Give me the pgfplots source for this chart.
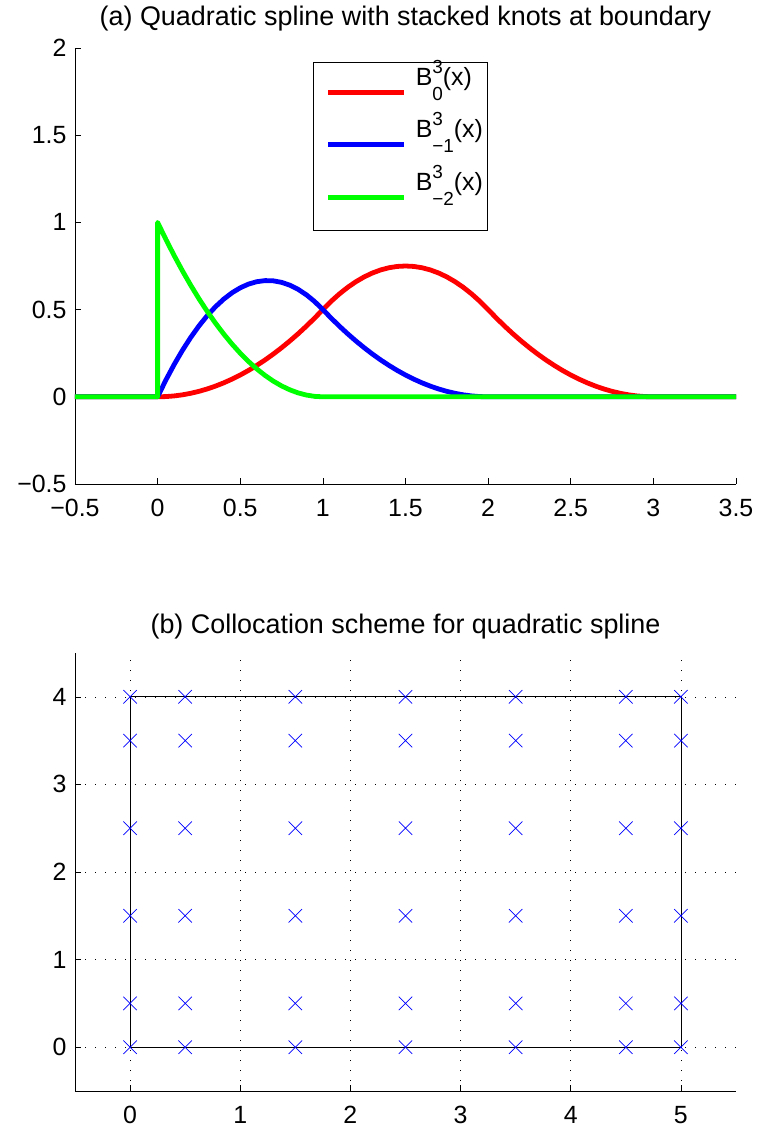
\documentclass[border=0pt]{standalone}
\usepackage{pgfplots}
\pgfplotsset{compat=1.18}
\usepackage{fontspec}
\setmainfont{Liberation Sans}

% B-spline name with stacked super- and subscript
\newcommand{\Bs}[2]{B\rlap{\raisebox{12bp}{\fontsize{19}{19}\selectfont #1}}\raisebox{-15bp}{\fontsize{19}{19}\selectfont #2}(x)}

\definecolor{mred}{rgb}{1,0,0}
\definecolor{mblue}{rgb}{0,0,1}
\definecolor{mgreen}{rgb}{0,1,0}

\pgfplotsset{
  mlab/.style={
    scale only axis,
    width=661bp,
    axis x line*=bottom,
    axis y line*=left,
    tick align=inside,
    major tick length=6bp,
    tick style={black, line width=0.6bp},
    axis line style={black, line width=0.8bp},
    /pgf/number format/assume math mode=true,
    ticklabel style={font=\fontsize{25}{29}\selectfont},
    yticklabel style={xshift=-5bp},
    xticklabel style={yshift=-12bp},
    title style={font=\fontsize{27}{31}\selectfont, at={(0.5,1)}, anchor=base},
  }
}

\begin{document}
\begin{tikzpicture}
% (a) quadratic B-splines on the knot sequence 0,0,0,1,2,3
\begin{axis}[mlab,
  at={(0,0)}, anchor=south west,
  height=436bp,
  xmin=-0.5, xmax=3.5, ymin=-0.5, ymax=2,
  xtick={-0.5,0,0.5,1,1.5,2,2.5,3,3.5},
  xticklabels={−0.5,0,0.5,1,1.5,2,2.5,3,3.5},
  ytick={-0.5,0,0.5,1,1.5,2},
  yticklabels={−0.5,0,0.5,1,1.5,2},
  title={(a) Quadratic spline with stacked knots at boundary},
  title style={yshift=17bp},
  legend style={
    at={(0.36,0.968)}, anchor=north west,
    draw=black, line width=0.8bp,
    inner xsep=4bp, inner ysep=5.25bp,
    row sep=0bp, column sep=9bp,
    font=\fontsize{25}{29}\selectfont,
    nodes={inner sep=0bp, text height=17.75bp, text depth=34.75bp},
  },
  legend cell align=left,
  legend image code/.code={
    \path[draw=none, fill=none] (0bp,-10bp) rectangle (87bp,10bp);
    \draw[#1, line width=4.8bp] (11bp,1.5bp) -- (87bp,1.5bp);
  },
]
\addplot[mred, line width=4.8bp, line join=round] coordinates {
(-0.5,0) (0,0) (0.05,0.00125) (0.1,0.005) (0.15,0.01125) (0.2,0.02) (0.25,0.03125)
(0.3,0.045) (0.35,0.06125) (0.4,0.08) (0.45,0.10125) (0.5,0.125) (0.55,0.15125)
(0.6,0.18) (0.65,0.21125) (0.7,0.245) (0.75,0.28125) (0.8,0.32) (0.85,0.36125)
(0.9,0.405) (0.95,0.45125) (1,0.5) (1.05,0.5475) (1.1,0.59) (1.15,0.6275) (1.2,0.66)
(1.25,0.6875) (1.3,0.71) (1.35,0.7275) (1.4,0.74) (1.45,0.7475) (1.5,0.75)
(1.55,0.7475) (1.6,0.74) (1.65,0.7275) (1.7,0.71) (1.75,0.6875) (1.8,0.66)
(1.85,0.6275) (1.9,0.59) (1.95,0.5475) (2,0.5) (2.05,0.45125) (2.1,0.405)
(2.15,0.36125) (2.2,0.32) (2.25,0.28125) (2.3,0.245) (2.35,0.21125) (2.4,0.18)
(2.45,0.15125) (2.5,0.125) (2.55,0.10125) (2.6,0.08) (2.65,0.06125) (2.7,0.045)
(2.75,0.03125) (2.8,0.02) (2.85,0.01125) (2.9,0.005) (2.95,0.00125) (3,0) (3.5,0)
};
\addlegendentry{\Bs{3}{0}}
\addplot[mblue, line width=4.8bp, line join=round] coordinates {
(-0.5,0) (0,0) (0.05,0.09625) (0.1,0.185) (0.15,0.26625) (0.2,0.34) (0.25,0.40625)
(0.3,0.465) (0.35,0.51625) (0.4,0.56) (0.45,0.59625) (0.5,0.625) (0.55,0.64625)
(0.6,0.66) (0.65,0.66625) (0.7,0.665) (0.75,0.65625) (0.8,0.64) (0.85,0.61625)
(0.9,0.585) (0.95,0.54625) (1,0.5) (1.05,0.45125) (1.1,0.405) (1.15,0.36125)
(1.2,0.32) (1.25,0.28125) (1.3,0.245) (1.35,0.21125) (1.4,0.18) (1.45,0.15125)
(1.5,0.125) (1.55,0.10125) (1.6,0.08) (1.65,0.06125) (1.7,0.045) (1.75,0.03125)
(1.8,0.02) (1.85,0.01125) (1.9,0.005) (1.95,0.00125) (2,0) (3.5,0)
};
\addlegendentry{\Bs{3}{−1}}
\addplot[mgreen, line width=4.8bp, line join=round] coordinates {
(-0.5,0) (0,0) (0,1) (0.05,0.9025) (0.1,0.81) (0.15,0.7225) (0.2,0.64) (0.25,0.5625)
(0.3,0.49) (0.35,0.4225) (0.4,0.36) (0.45,0.3025) (0.5,0.25) (0.55,0.2025)
(0.6,0.16) (0.65,0.1225) (0.7,0.09) (0.75,0.0625) (0.8,0.04) (0.85,0.0225)
(0.9,0.01) (0.95,0.0025) (1,0) (3.5,0)
};
\addlegendentry{\Bs{3}{−2}}
\end{axis}

% (b) collocation points on the rectangle [0,5]x[0,4]
\begin{axis}[mlab,
  at={(0,-607bp)}, anchor=south west,
  height=438bp,
  xmin=-0.5, xmax=5.5, ymin=-0.5, ymax=4.5,
  xtick={0,1,2,3,4,5},
  ytick={0,1,2,3,4},
  grid=major,
  grid style={black, line width=0.6bp, dash pattern=on 0.8bp off 9.2bp},
  title={(b) Collocation scheme for quadratic spline},
  title style={yshift=14bp},
]
\addplot[black, line width=0.8bp] coordinates {(0,0) (5,0) (5,4) (0,4) (0,0)};
\addplot[only marks, mark=x, mark size=9.5bp, mark options={mblue, line width=0.7bp}] table {
x   y
0   0
0.5 0
1.5 0
2.5 0
3.5 0
4.5 0
5   0
0   0.5
0.5 0.5
1.5 0.5
2.5 0.5
3.5 0.5
4.5 0.5
5   0.5
0   1.5
0.5 1.5
1.5 1.5
2.5 1.5
3.5 1.5
4.5 1.5
5   1.5
0   2.5
0.5 2.5
1.5 2.5
2.5 2.5
3.5 2.5
4.5 2.5
5   2.5
0   3.5
0.5 3.5
1.5 3.5
2.5 3.5
3.5 3.5
4.5 3.5
5   3.5
0   4
0.5 4
1.5 4
2.5 4
3.5 4
4.5 4
5   4
};
\end{axis}

\pgfresetboundingbox
\path (-75bp,-644bp) rectangle (682bp,484bp);
\end{tikzpicture}
\end{document}
